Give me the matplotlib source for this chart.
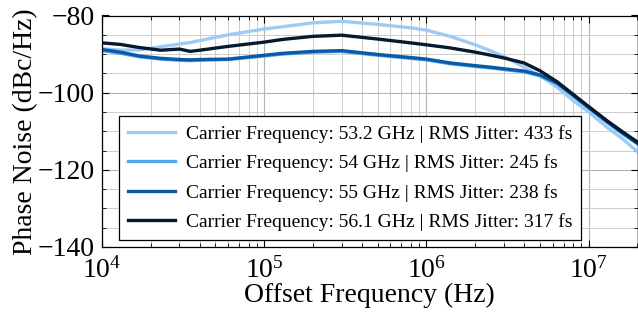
import numpy as np
import matplotlib
matplotlib.use("Agg")
import matplotlib.pyplot as plt
from matplotlib.ticker import LogLocator, MultipleLocator, NullFormatter

plt.rcParams['font.family'] = ['Liberation Serif', 'DejaVu Serif']
plt.rcParams['mathtext.fontset'] = 'stix'

# offset frequency (Hz)
freq = [1e4, 1.3e4, 1.7e4, 2.3e4, 3e4, 3.5e4, 4e4, 6e4, 1e5, 1.3e5, 2e5, 3e5,
        5e5, 8e5, 1e6, 1.4e6, 2e6, 2.5e6, 3e6, 4e6, 5e6, 6.4e6, 8e6, 1e7, 1.3e7, 1.6e7, 2e7]

# phase noise (dBc/Hz) per carrier
pn_532 = [-88.6, -89.0, -88.9, -88.1, -87.4, -87.0, -86.5, -85.0, -83.5, -82.9, -81.9, -81.5,
          -82.3, -83.2, -83.8, -85.4, -87.6, -89.2, -90.6, -93.4, -95.6, -98.6, -102.0, -105.0,
          -109.0, -111.8, -115.3]
pn_54 = [-89.1, -89.8, -90.7, -91.3, -91.6, -91.7, -91.6, -91.4, -90.5, -90.0, -89.5, -89.3,
         -90.3, -91.1, -91.5, -92.5, -93.2, -93.6, -94.0, -94.6, -95.6, -97.7, -100.8, -104.0,
         -107.7, -110.5, -113.3]
pn_55 = [-88.8, -89.5, -90.5, -91.1, -91.4, -91.5, -91.4, -91.3, -90.3, -89.8, -89.3, -89.1,
         -90.1, -90.9, -91.3, -92.3, -93.0, -93.4, -93.8, -94.4, -95.4, -97.5, -100.6, -103.8,
         -107.5, -110.3, -113.1]
pn_561 = [-87.1, -87.5, -88.3, -89.0, -88.7, -89.3, -89.0, -88.0, -86.9, -86.2, -85.4, -85.1,
          -86.1, -87.1, -87.6, -88.4, -89.5, -90.3, -91.0, -92.3, -94.3, -97.2, -100.4, -103.6,
          -107.3, -110.0, -112.8]

labels = ['Carrier Frequency: 53.2 GHz | RMS Jitter: 433 fs',
          'Carrier Frequency: 54 GHz | RMS Jitter: 245 fs',
          'Carrier Frequency: 55 GHz | RMS Jitter: 238 fs',
          'Carrier Frequency: 56.1 GHz | RMS Jitter: 317 fs']
colors = ['#9dcbf4', '#55a6ea', '#0b5aa8', '#07192f']

fig = plt.figure(figsize=(6.38, 3.2), dpi=100)
ax = fig.add_axes([102/638, 1-247/320, 535.5/638, 231.5/320])

for pn, lab, c in zip([pn_532, pn_54, pn_55, pn_561], labels, colors):
    ax.plot(freq, pn, color=c, lw=2.4, label=lab)

ax.set_xscale('log')
ax.set_xlim(1e4, 2e7)
ax.set_ylim(-140, -80)
ax.yaxis.set_major_locator(MultipleLocator(20))
ax.yaxis.set_minor_locator(MultipleLocator(5))
ax.xaxis.set_minor_locator(LogLocator(subs=np.arange(2, 10), numticks=20))
ax.xaxis.set_minor_formatter(NullFormatter())

ax.grid(which='major', color='#b4b4b4', lw=0.8)
ax.grid(which='minor', color='#cdcdcd', lw=0.7)
ax.set_axisbelow(True)
ax.tick_params(which='both', direction='in', top=True, right=True, labelsize=20)
ax.tick_params(axis='x', pad=7)
ax.tick_params(axis='y', pad=5)
ax.tick_params(which='major', length=5)
ax.tick_params(which='minor', length=3)
for s in ax.spines.values():
    s.set_linewidth(0.9)

ax.set_xlabel('Offset Frequency (Hz)', fontsize=20, labelpad=0)
ax.set_ylabel('Phase Noise (dBc/Hz)', fontsize=20, labelpad=0)

leg = ax.legend(loc='lower left', bbox_to_anchor=(0.032, 0.03), borderaxespad=0,
                fontsize=14, fancybox=False, framealpha=1, edgecolor='black',
                handlelength=2.4, handletextpad=0.6, labelspacing=0.6, borderpad=0.45)
leg.get_frame().set_linewidth(0.9)

fig.savefig('out.png', dpi=100)
